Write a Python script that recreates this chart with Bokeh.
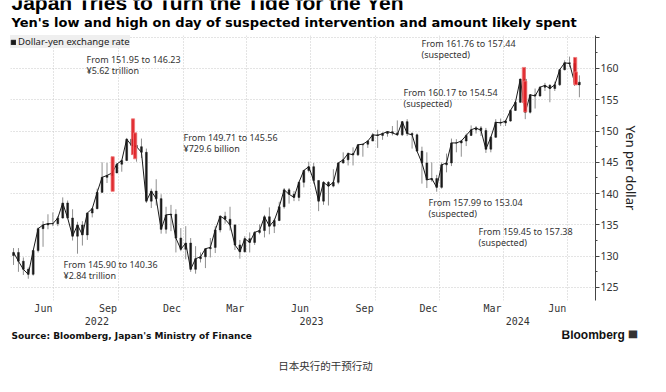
import numpy as np
import pandas as pd
from bokeh.plotting import figure
from bokeh.layouts import column
from bokeh.models import (Range1d, FixedTicker, SingleIntervalTicker, DatetimeAxis,
                          DatetimeTickFormatter, Label, Legend, LegendItem, ColumnDataSource)
from bokeh.embed import file_html
from bokeh.resources import INLINE

# ---------------- data ----------------
first_week = "2022-05-02"   # Monday of first weekly candle

w_open = [130.1, 130.6, 129.2, 127.9, 127.1, 130.9, 134.4, 135.0, 135.2, 135.2, 136.1, 138.5,
          136.1, 133.2, 135.0, 133.4, 136.9, 137.6, 140.2, 142.6, 142.9, 143.3, 144.7, 145.3,
          148.7, 147.7, 147.5, 146.6, 138.8, 140.4, 139.2, 134.3, 136.6, 136.7, 132.9,
          131.1, 132.1, 127.9, 129.6, 129.9, 131.2, 131.4, 134.2, 136.4, 135.9, 135.0, 131.8,
          130.7, 132.8, 132.2, 133.8, 134.1, 136.3, 134.8, 135.7, 137.9, 140.6, 139.9, 139.4,
          141.8, 143.7, 144.3, 142.1, 138.8, 141.8, 141.2, 141.8, 144.9, 145.4, 146.4, 146.2,
          147.8, 147.9, 148.4, 149.4, 149.3, 149.6, 149.9, 149.7, 149.4, 151.5, 149.6, 149.4,
          146.8, 144.9, 142.2, 142.4,
          141.0, 144.6, 144.9, 148.1, 148.1, 148.4, 149.3, 150.2, 150.5, 150.1, 147.1, 149.0,
          151.4, 151.3, 151.6, 153.3, 154.6, 158.3, 153.0, 155.8, 155.6, 157.0, 157.3, 156.8,
          157.4, 159.8, 160.9, 160.8, 157.8]
w_high = [131.3, 131.3, 129.8, 128.2, 131.0, 134.6, 135.6, 136.7, 137.0, 136.4, 139.4, 138.9,
          137.5, 135.5, 135.6, 137.0, 137.7, 140.8, 145.0, 144.9, 145.9, 144.9, 145.4, 148.9,
          151.9, 149.7, 148.8, 147.2, 140.8, 142.3, 139.9, 137.9, 138.2, 137.5, 134.5,
          134.8, 132.9, 131.6, 130.6, 131.2, 132.9, 134.8, 136.5, 137.1, 137.9, 135.1, 132.6,
          133.2, 133.8, 134.0, 135.1, 136.6, 137.8, 136.0, 138.7, 140.9, 140.9, 140.4, 141.9,
          143.8, 145.1, 144.9, 142.1, 142.0, 142.0, 143.9, 145.0, 146.6, 146.6, 147.4, 147.9,
          147.9, 148.5, 149.7, 150.2, 149.8, 150.0, 150.8, 151.7, 151.6, 151.9, 149.8, 149.6,
          147.5, 146.6, 145.0, 143.0,
          145.0, 146.4, 148.8, 148.7, 148.6, 149.6, 150.9, 150.8, 150.8, 150.5, 149.2, 151.9,
          152.0, 151.8, 153.4, 154.8, 158.4, 160.2, 155.9, 156.8, 157.2, 157.7, 157.5, 157.9,
          159.9, 161.3, 161.9, 161.8, 158.9]
w_low = [128.6, 127.5, 127.0, 126.4, 126.9, 130.6, 131.5, 134.3, 134.8, 134.8, 136.0, 136.6,
         132.5, 130.4, 131.7, 132.6, 136.2, 137.5, 140.1, 141.7, 140.4, 143.3, 143.5, 145.2,
         146.2, 145.1, 145.7, 138.5, 137.7, 138.1, 133.6, 133.6, 134.0, 130.6, 130.8,
         129.5, 127.5, 127.2, 129.0, 128.1, 129.8, 130.5, 133.8, 135.2, 134.1, 131.0, 129.6,
         130.6, 130.6, 131.8, 133.5, 133.0, 133.5, 133.7, 135.6, 137.6, 138.4, 138.8, 138.8,
         141.0, 143.4, 141.6, 137.2, 138.2, 138.1, 141.0, 141.5, 144.8, 144.5, 144.5, 146.0,
         145.9, 147.3, 148.4, 147.3, 148.6, 149.1, 149.3, 149.2, 149.2, 149.2, 147.2, 146.7,
         141.6, 140.9, 141.9, 140.3,
         140.8, 143.4, 144.4, 146.6, 145.9, 147.6, 149.2, 149.6, 149.2, 146.5, 146.6, 148.9,
         150.8, 150.8, 151.5, 153.2, 154.5, 151.9, 152.8, 153.6, 155.5, 156.4, 154.6, 156.4,
         157.2, 159.7, 160.2, 157.2, 155.4]
w_close = [130.6, 129.2, 127.9, 127.1, 130.9, 134.4, 135.0, 135.2, 135.2, 136.1, 138.5, 136.1,
           133.2, 135.0, 133.4, 136.9, 137.6, 140.2, 142.6, 142.9, 143.3, 144.7, 145.3, 148.7,
           147.7, 147.5, 146.6, 138.8, 140.4, 139.2, 134.3, 136.6, 136.7, 132.9, 131.1,
           132.1, 127.9, 129.6, 129.9, 131.2, 131.4, 134.2, 136.4, 135.9, 135.0, 131.8, 130.7,
           132.8, 132.2, 133.8, 134.1, 136.3, 134.8, 135.7, 137.9, 140.6, 139.9, 139.4, 141.8,
           143.7, 144.3, 142.1, 138.8, 141.8, 141.2, 141.8, 144.9, 145.4, 146.4, 146.2, 147.8,
           147.9, 148.4, 149.4, 149.3, 149.6, 149.9, 149.7, 149.4, 151.5, 149.6, 149.4, 146.8,
           144.9, 142.2, 142.4, 141.0,
           144.6, 144.9, 148.1, 148.1, 148.4, 149.3, 150.2, 150.5, 150.1, 147.1, 149.0, 151.4,
           151.3, 151.6, 153.3, 154.6, 158.3, 153.0, 155.8, 155.6, 157.0, 157.3, 156.8, 157.4,
           159.8, 160.9, 160.8, 157.8, 157.4]

iv_dates = ["2022-09-22", "2022-10-21", "2022-10-24", "2024-04-29", "2024-05-01",
            "2024-07-11", "2024-07-12"]
iv_high = [145.90, 151.95, 149.71, 160.17, 157.99, 161.76, 159.45]
iv_low = [140.36, 146.23, 145.56, 154.54, 153.04, 157.44, 157.38]
iv_note = ["¥2.84 trillion", "¥5.62 trillion", "¥729.6 billion", "(suspected)",
           "(suspected)", "(suspected)", "(suspected)"]

month_ticks = ["2022-06-16", "2022-09-16", "2022-12-16", "2023-03-16", "2023-06-16",
               "2023-09-16", "2023-12-16", "2024-03-16", "2024-06-16"]
grid_dates = ["2022-07-01", "2022-10-01", "2023-01-01", "2023-04-01", "2023-07-01",
              "2023-10-01", "2024-01-01", "2024-04-01", "2024-07-01"]
years = ["2022", "2023", "2024"]

# ---------------- layout (reference pixel coords) ----------------
W = 666
HEAD_B = 33          # header strip: y 0..33
FOOT_T = 330         # footer strip: y 330..392
TOTAL_H = 392
FL, FR, FT, FB = 10, 595, 35, 300   # plot frame
DAY = 86400000.0


def ms(s):
    return pd.Timestamp(s).value / 1e6


X0, X1 = ms("2022-04-30 05:00"), ms("2024-08-09 10:00")
Y0, Y1 = 122.92, 165.27


def px2x(px):
    return X0 + (px - FL) / (FR - FL) * (X1 - X0)


def px2y(py):
    return Y1 - (py - FT) / (FB - FT) * (Y1 - Y0)


def no_align(f):
    try:
        f.frame_align = False
    except Exception:
        pass


def strip(y_top, y_bot):
    # y data = minus pixel row, so that labels are placed at page pixel positions
    f = figure(width=W, height=y_bot - y_top, x_range=Range1d(0, W),
               y_range=Range1d(-y_bot, -y_top), output_backend="svg",
               toolbar_location=None, tools="", title=None,
               x_axis_location=None, y_axis_location=None,
               min_border=0, min_border_left=0, min_border_right=0,
               min_border_top=0, min_border_bottom=0)
    f.outline_line_color = None
    f.xgrid.visible = False
    f.ygrid.visible = False
    f.background_fill_color = "white"
    f.border_fill_color = "white"
    no_align(f)
    return f


def put(f, text, x, y, size, font="Noto Sans", style="normal", color="#333333",
        align="left", baseline="middle"):
    f.add_layout(Label(x=x, y=y, text=text, text_font=font, text_font_size=size,
                       text_font_style=style, text_color=color, text_align=align,
                       text_baseline=baseline))


# ---------------- header ----------------
head = strip(0, HEAD_B)
put(head, "Japan Tries to Turn the Tide for the Yen", 11, -2.2, "21px", font="Liberation Sans",
    style="bold", color="#000000")
put(head, "Yen's low and high on day of suspected intervention and amount likely spent",
    11, -22.2, "13px", font="DejaVu Sans", style="bold", color="#000000")

# ---------------- main chart ----------------
p = figure(width=W, height=FOOT_T - HEAD_B, x_axis_type="datetime", y_axis_location="right",
           x_range=Range1d(X0, X1), y_range=Range1d(Y0, Y1),
           output_backend="svg", toolbar_location=None, tools="", title=None,
           min_border_left=FL, min_border_right=W - FR, min_border_top=FT - HEAD_B,
           min_border_bottom=FOOT_T - FB)
p.outline_line_color = None
p.background_fill_color = "white"
p.border_fill_color = "white"
no_align(p)

wk = pd.date_range(first_week, periods=len(w_close), freq="7D")
wx = (wk.asi8 / 1e6) + 2.5 * DAY
src = ColumnDataSource(dict(
    x=wx, high=w_high, low=w_low, close=w_close,
    top=[max(o, c) for o, c in zip(w_open, w_close)],
    bottom=[min(o, c) for o, c in zip(w_open, w_close)],
))
p.segment(x0="x", y0="low", x1="x", y1="high", source=src, line_color="#8f8f8f", line_width=1)
p.line(x="x", y="close", source=src, line_color="#1a1a1a", line_width=1.0)
body = p.vbar(x="x", top="top", bottom="bottom", width=2.6 * DAY, source=src,
              fill_color="#1a1a1a", line_color="#1a1a1a", line_width=0.5)

ivx = [ms(d) + 0.5 * DAY for d in iv_dates]
p.vbar(x=ivx, top=iv_high, bottom=iv_low, width=4.5 * DAY, fill_color="#e0191f",
       fill_alpha=0.9, line_color="#f07a7a", line_width=0.8)

p.xgrid.ticker = FixedTicker(ticks=[ms(d) for d in grid_dates])
for g in (p.xgrid, p.ygrid):
    g.grid_line_color = "#c8c8c8"
    g.grid_line_dash = "1 2"
    g.grid_line_width = 1

xa = p.xaxis[0]
xa.ticker = FixedTicker(ticks=[ms(d) for d in month_ticks])
xa.formatter = DatetimeTickFormatter(days="%b", months="%b", years="%b")
year_c = [(max(X0, ms(y + "-01-01")) + min(X1, ms(str(int(y) + 1) + "-01-01"))) / 2 for y in years]
ya2 = DatetimeAxis(ticker=FixedTicker(ticks=year_c),
                   formatter=DatetimeTickFormatter(days="%Y", months="%Y", years="%Y"))
p.add_layout(ya2, "below")
for ax, so in ((xa, 2), (ya2, 0)):
    ax.axis_line_color = None
    ax.major_tick_line_color = None
    ax.minor_tick_line_color = None
    ax.major_tick_out = 0
    ax.major_tick_in = 0
    ax.minor_tick_out = 0
    ax.major_label_standoff = so
    ax.major_label_text_font = "DejaVu Sans Mono"
    ax.major_label_text_font_size = "10px"
    ax.major_label_text_color = "#333333"

yax = p.yaxis[0]
yax.ticker = SingleIntervalTicker(interval=5, num_minor_ticks=2)
yax.major_label_overrides = {165: ""}
yax.axis_line_color = "#444444"
yax.major_tick_line_color = "#444444"
yax.minor_tick_line_color = "#444444"
yax.major_tick_out = 4
yax.major_tick_in = 0
yax.minor_tick_out = 2
yax.minor_tick_in = 0
yax.major_label_standoff = 1
yax.major_label_text_font = "Noto Sans"
yax.major_label_text_font_size = "10.5px"
yax.major_label_text_color = "#333333"
yax.axis_label = "Yen per dollar"
yax.axis_label_text_font = "Noto Sans"
yax.axis_label_text_font_size = "13px"
yax.axis_label_text_font_style = "normal"
yax.axis_label_text_color = "#222222"
yax.axis_label_standoff = 0

leg = Legend(items=[LegendItem(label="Dollar-yen exchange rate", renderers=[body])],
             location="top_left", margin=0, padding=5, spacing=0,
             glyph_width=6, glyph_height=6, label_standoff=2, label_height=12,
             background_fill_color="#efefef", background_fill_alpha=1.0,
             border_line_color=None, label_text_font="Noto Sans",
             label_text_font_size="9.5px", label_text_color="#222222")
p.add_layout(leg)

anno_pos = [(63, 264), (86, 59), (183, 137), (403, 92), (428, 202), (421, 43), (478, 231)]
for (ax_, ay_), hi, lo, note in zip(anno_pos, iv_high, iv_low, iv_note):
    put(p, f"From {hi:.2f} to {lo:.2f}", px2x(ax_), px2y(ay_), "9px")
    put(p, note, px2x(ax_), px2y(ay_ + 11.3), "9px")

# ---------------- footer ----------------
foot = strip(FOOT_T, TOTAL_H)
put(foot, "Source: Bloomberg, Japan's Ministry of Finance", 11, -335, "9px", font="DejaVu Sans",
    style="bold", color="#111111")
put(foot, "Bloomberg", 561, -334, "12px", font="Liberation Sans", style="bold", color="#111111")
put(foot, "■", 632.5, -333, "11px", font="DejaVu Sans", color="#333333", align="center")
put(foot, "日本央行的干预行动", 325, -365, "10.5px", font="Noto Sans CJK SC", color="#333333",
    align="center")

layout = column(head, p, foot, spacing=0)
open("out.html", "w").write(file_html(layout, INLINE))
